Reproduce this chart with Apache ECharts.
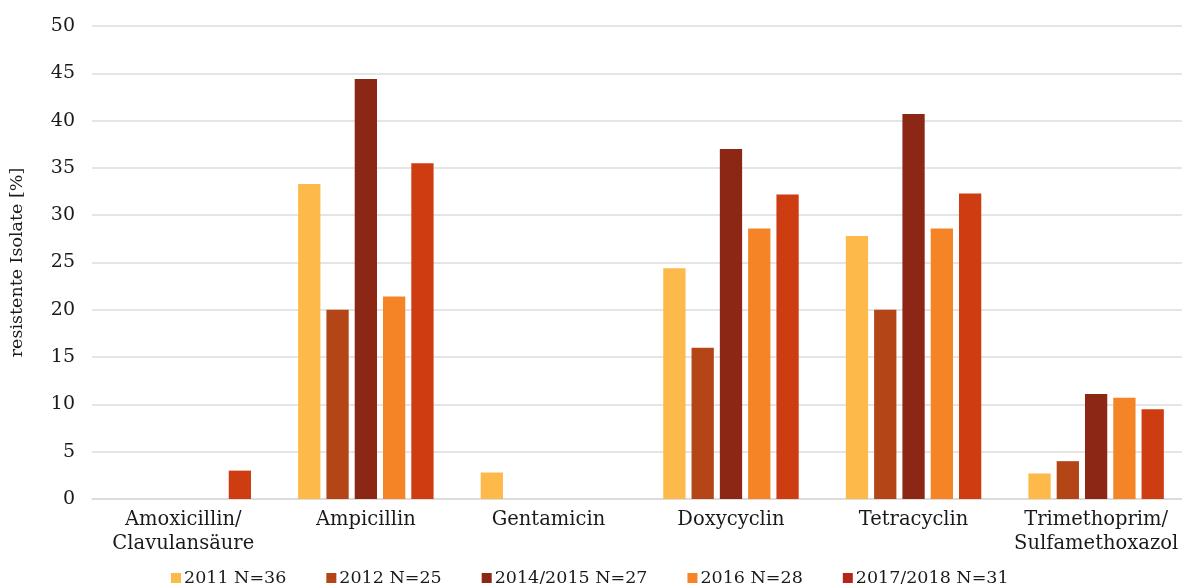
<!DOCTYPE html>
<html>
<head>
<meta charset="utf-8">
<script src="https://cdn.jsdelivr.net/npm/echarts@6/dist/echarts.min.js"></script>
<style>html,body{margin:0;padding:0;background:#fff;overflow:hidden}#c{width:1192px;height:584px}</style>
</head>
<body>
<div id="c"></div>
<script>
const categories = ['Amoxicillin/\nClavulansäure', 'Ampicillin', 'Gentamicin', 'Doxycyclin', 'Tetracyclin', 'Trimethoprim/\nSulfamethoxazol'];
const seriesNames = ['2011 N=36', '2012 N=25', '2014/2015 N=27', '2016 N=28', '2017/2018 N=31'];
const s2011 = [0, 33.3, 2.8, 24.4, 27.8, 2.7];
const s2012 = [0, 20.0, 0, 16.0, 20.0, 4.0];
const s2014 = [0, 44.4, 0, 37.0, 40.7, 11.1];
const s2016 = [0, 21.4, 0, 28.6, 28.6, 10.7];
const s2017 = [3.0, 35.5, 0, 32.2, 32.3, 9.5];
const yTicks = { min: 0, max: 50, interval: 5 };

const colors = ['#FDBA4A', '#B34516', '#8C2615', '#F58426', '#CE3D12'];
const legendColors = ['#FDBA4A', '#B34516', '#8C2615', '#F58426', '#B5261A'];
const font = '"DejaVu Serif", serif';
const allData = [s2011, s2012, s2014, s2016, s2017];

const chart = echarts.init(document.getElementById('c'), null, { renderer: 'canvas' });
chart.setOption({
  animation: false,
  textStyle: { fontFamily: font },
  grid: { left: 87.4, right: 4.6, top: 26, bottom: 85, containLabel: false },
  legend: {
    left: 166, top: 564,
    itemWidth: 10, itemHeight: 10, itemGap: 40,
    icon: 'rect',
    textStyle: { fontFamily: font, fontSize: 17.5, color: '#1a1a1a', padding: [0, 0, 0, -2] },
    data: seriesNames.map((n, i) => ({ name: n, itemStyle: { color: legendColors[i] } }))
  },
  xAxis: {
    type: 'category',
    data: categories,
    axisTick: { show: false },
    axisLine: { lineStyle: { color: '#d9d9d9', width: 1.5 } },
    axisLabel: { fontFamily: font, fontSize: 19.5, color: '#1a1a1a', margin: 9, lineHeight: 24, interval: 0 }
  },
  yAxis: {
    type: 'value',
    min: yTicks.min, max: yTicks.max, interval: yTicks.interval,
    name: 'resistente Isolate [%]',
    nameLocation: 'middle',
    nameGap: 66,
    nameTextStyle: { fontFamily: font, fontSize: 17.5, color: '#1a1a1a' },
    axisLine: { show: false },
    axisTick: { show: false },
    splitLine: { lineStyle: { color: '#dcdcdc', width: 1.5 } },
    axisLabel: { fontFamily: font, fontSize: 19, color: '#1a1a1a', margin: 17 }
  },
  series: allData.map((d, i) => ({
    name: seriesNames[i],
    type: 'bar',
    data: d,
    barGap: '27%',
    barCategoryGap: '25.8%',
    itemStyle: { color: colors[i] }
  }))
});
</script>
</body>
</html>
